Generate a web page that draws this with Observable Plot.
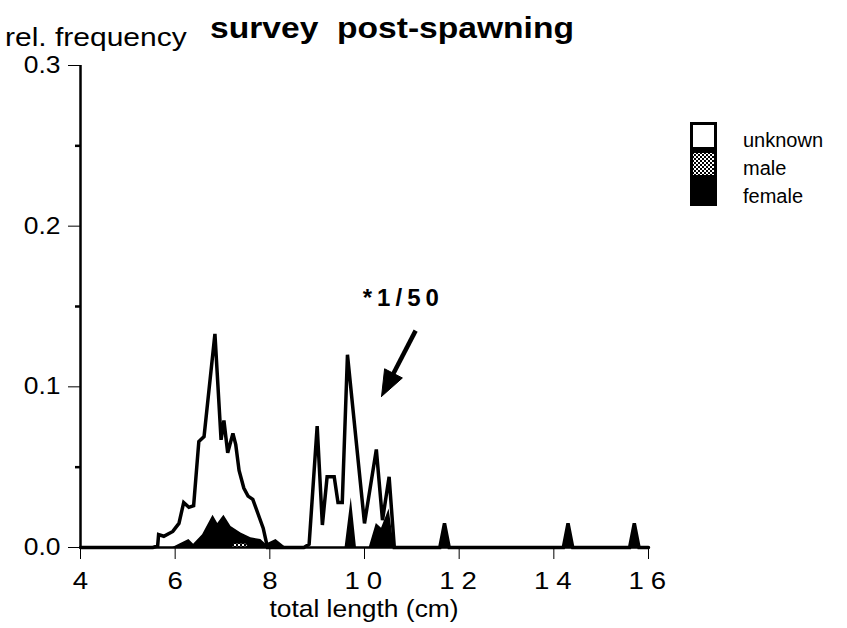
<!DOCTYPE html>
<html><head><meta charset="utf-8">
<script src="https://cdn.jsdelivr.net/npm/d3@7"></script>
<script src="https://cdn.jsdelivr.net/npm/@observablehq/plot@0.6"></script>
<style>
body{margin:0;background:#fff;}
#wrap{position:relative;width:847px;height:628px;overflow:hidden;}
</style></head><body><div id="wrap"></div>
<script>
// ---- data ----
const titleText = "survey  post-spawning";
const yLabelText = "rel. frequency";
const xLabelText = "total length (cm)";
const categories = ["unknown", "male", "female"];

// top outline of the stacked distribution (unknown + male + female)
const totalLength = [4.0, 5.53, 5.63, 5.65, 5.76, 5.95, 6.08, 6.18, 6.29, 6.39, 6.5, 6.61, 6.84, 6.97, 7.03, 7.11, 7.22, 7.28, 7.35, 7.45, 7.54, 7.64, 7.75, 7.86, 7.95,
  8.72, 8.83, 9.0, 9.11, 9.21, 9.36, 9.44, 9.53, 9.64, 10.0, 10.25, 10.38, 10.52, 10.63,
  11.59, 11.69, 11.79, 14.2, 14.3, 14.4, 15.6, 15.7, 15.8, 16.0];
const totalFreq = [0, 0, 0.001, 0.008, 0.007, 0.010, 0.015, 0.028, 0.025, 0.026, 0.066, 0.069, 0.133, 0.067, 0.079, 0.059, 0.071, 0.064, 0.048, 0.037, 0.032, 0.030, 0.021, 0.012, 0,
  0, 0.002, 0.0755, 0.014, 0.044, 0.044, 0.028, 0.028, 0.12, 0.015, 0.061, 0.017, 0.044, 0,
  0, 0.015, 0, 0, 0.015, 0, 0, 0.015, 0, 0];

const femaleLength = [5.95, 6.29, 6.39, 6.58, 6.8, 6.9, 7.03, 7.18, 7.39, 7.6, 7.81, 7.92, 8.13, 8.34,
  9.59, 9.72, 9.83, 10.1, 10.25, 10.36, 10.52, 10.63,
  11.59, 11.69, 11.79, 14.2, 14.3, 14.4, 15.6, 15.7, 15.8];
const femaleFreq = [0, 0.005, 0.002, 0.008, 0.02, 0.015, 0.02, 0.013, 0.009, 0.006, 0.005, 0.002, 0.005, 0,
  0, 0.031, 0, 0, 0.015, 0.012, 0.024, 0,
  0, 0.015, 0, 0, 0.015, 0, 0, 0.015, 0];

const maleLength = [7.2, 7.25, 7.5, 7.55];
const maleFreq = [0, 0.002, 0.002, 0];

const xTicks = [4, 6, 8, 10, 12, 14, 16];
const yTicks = [0, 0.1, 0.2, 0.3];
const yMinorTicks = [0.05, 0.15, 0.25];

const noteText = "*1/50";
const noteAt = {x: 10.82, y: 0.155};
const arrowFrom = {x: 11.08, y: 0.135};
const arrowTo = {x: 10.36, y: 0.094};

// ---- build ----
const total = totalLength.map((x, i) => ({x, y: totalFreq[i]}));
const female = femaleLength.map((x, i) => ({x, y: femaleFreq[i]}));
const male = maleLength.map((x, i) => ({x, y: maleFreq[i]}));

const W = 847, H = 628, mL = 80, mR = 199, mT = 65, mB = 81;
const kx = (W - mL - mR) / (16 - 4), ky = (H - mT - mB) / 0.3;
// arrow geometry (pixel-true head built from the two anchor points)
const dxp = (arrowTo.x - arrowFrom.x) * kx, dyp = -(arrowTo.y - arrowFrom.y) * ky;
const lenp = Math.hypot(dxp, dyp);
const ux = dxp / lenp, uy = dyp / lenp;
const headLen = 26, headHalf = 10;
const toData = (px, py) => ({x: arrowTo.x + px / kx, y: arrowTo.y - py / ky});
const baseC = [-ux * headLen, -uy * headLen];
const headPts = [
  toData(0, 0),
  toData(baseC[0] - uy * headHalf, baseC[1] + ux * headHalf),
  toData(baseC[0] + uy * headHalf, baseC[1] - ux * headHalf),
  toData(0, 0)
];
const shaftEnd = toData(baseC[0] * 0.8, baseC[1] * 0.8);

const font = "'Liberation Sans', Arial, Helvetica, sans-serif";
const svg = Plot.plot({
  width: W, height: H,
  marginLeft: mL, marginRight: mR, marginTop: mT, marginBottom: mB,
  x: {domain: [4, 16], ticks: xTicks, tickSize: 12, tickPadding: 12, tickFormat: d => String(d), label: null},
  y: {domain: [0, 0.3], ticks: yTicks, tickSize: 12, tickPadding: 8, tickFormat: d3.format(".1f"), label: null},
  style: {fontFamily: font, color: "black", background: "white"},
  marks: [
    Plot.areaY(total, {x: "x", y: "y", fill: "white"}),
    Plot.areaY(female, {x: "x", y: "y", fill: "black"}),
    Plot.areaY(male, {x: "x", y: "y", fill: "url(#stipple)"}),
    Plot.lineY(total, {x: "x", y: "y", stroke: "black", strokeWidth: 3.5, strokeLinejoin: "miter", strokeMiterlimit: 3}),
    Plot.ruleX([4], {strokeWidth: 2.5}),
    Plot.ruleY([0], {strokeWidth: 2.5}),
    Plot.ruleY(yMinorTicks, {x1: 4 - 5 / kx, x2: 4, strokeWidth: 2.5}),
    Plot.text([noteText], {x: () => noteAt.x, y: () => noteAt.y, text: d => d, fontSize: 24, fontWeight: "bold"}),
    Plot.link([0], {x1: () => arrowFrom.x, y1: () => arrowFrom.y, x2: () => shaftEnd.x, y2: () => shaftEnd.y, stroke: "black", strokeWidth: 4.5}),
    Plot.line(headPts, {x: "x", y: "y", fill: "black", stroke: "black", strokeWidth: 1})
  ]
});
document.getElementById("wrap").appendChild(svg);

const S = d3.select(svg);
const defs = S.insert("defs", ":first-child");
const pat = defs.append("pattern").attr("id", "stipple").attr("patternUnits", "userSpaceOnUse").attr("width", 4).attr("height", 4);
pat.append("rect").attr("width", 4).attr("height", 4).attr("fill", "white");
pat.append("rect").attr("width", 2).attr("height", 2).attr("fill", "black");
pat.append("rect").attr("x", 2).attr("y", 2).attr("width", 2).attr("height", 2).attr("fill", "black");

function stretch(node, s) {
  const x = +(node.getAttribute("x") || 0);
  node.removeAttribute("x");
  const tr = node.getAttribute("transform") || "";
  node.setAttribute("transform", `${tr} translate(${x},0) scale(${s},1)`);
}
const yAxis = S.selectAll('g[aria-label="y-axis"], g[aria-label="y-axis tick label"]');
yAxis.attr("font-size", 23);
yAxis.selectAll("text").each(function() { stretch(this, 1.15); });
const xAxis = S.selectAll('g[aria-label="x-axis"], g[aria-label="x-axis tick label"]');
xAxis.attr("font-size", 24);
xAxis.selectAll("text").each(function() {
  stretch(this, 1.15);
  if (this.textContent.length > 1) { this.style.letterSpacing = "6px"; this.setAttribute("dx", "2"); }
});
S.selectAll('g[aria-label="y-axis"] line, g[aria-label="x-axis"] line').attr("stroke-width", 2.5);
S.selectAll("text").filter(function() { return this.textContent === noteText; })
  .style("letter-spacing", "5px");

// titles
S.append("text").attr("transform", `translate(210,38) scale(1.12,1)`).attr("text-anchor", "start")
  .attr("font-family", font).attr("font-size", 30).attr("font-weight", "bold").text(titleText);
S.append("text").attr("transform", `translate(5,46) scale(1.2,1)`).attr("text-anchor", "start")
  .attr("font-family", font).attr("font-size", 25).text(yLabelText);
S.append("text").attr("transform", `translate(${mL + (W - mL - mR) / 2},617) scale(1.1,1)`)
  .attr("text-anchor", "middle").attr("font-family", font).attr("font-size", 24).text(xLabelText);

// legend
const legendFill = {unknown: "white", male: "url(#stipple)", female: "black"};
const lg = S.append("g").attr("aria-label", "legend");
const items = lg.selectAll("g").data(categories).join("g")
  .attr("transform", (d, i) => `translate(690,${122 + i * 28})`);
items.append("rect").attr("x", 1.5).attr("y", 1.5).attr("width", 24).attr("height", 25)
  .attr("fill", d => legendFill[d]).attr("stroke", "black").attr("stroke-width", 3);
items.append("text").attr("x", 53).attr("y", 25).attr("text-anchor", "start")
  .attr("font-family", font).attr("font-size", 20).text(d => d);
</script>
</body></html>
